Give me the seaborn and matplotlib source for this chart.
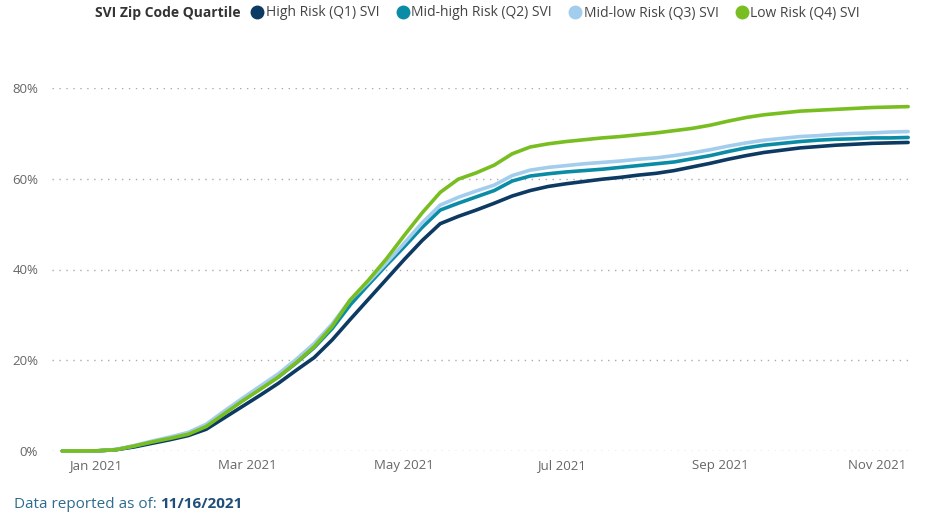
import pandas as pd
import numpy as np
import matplotlib.pyplot as plt
import matplotlib.dates as mdates
from matplotlib.lines import Line2D
from matplotlib.ticker import FuncFormatter
import seaborn as sns

# weekly cumulative vaccination share (%) by SVI zip code quartile
dates = pd.date_range("2020-12-19", periods=48, freq="7D")

q1_high = [0, 0, 0.05, 0.3, 0.9, 1.7, 2.5, 3.4, 4.8, 7.3, 9.8, 12.3, 14.9, 17.8, 20.6, 24.5,
           29.0, 33.4, 37.8, 42.2, 46.4, 50.1, 51.7, 53.1, 54.6, 56.2, 57.4, 58.3, 58.9, 59.4,
           59.9, 60.3, 60.8, 61.2, 61.8, 62.6, 63.4, 64.3, 65.1, 65.8, 66.3, 66.8, 67.1, 67.4,
           67.6, 67.8, 67.9, 68.0]
q2_midhigh = [0, 0, 0.05, 0.3, 1.1, 2.0, 2.9, 3.9, 5.6, 8.4, 11.1, 13.7, 16.3, 19.4, 22.8, 27.0,
              32.2, 36.6, 40.9, 45.0, 49.3, 53.1, 54.6, 56.0, 57.4, 59.5, 60.6, 61.1, 61.5, 61.8,
              62.1, 62.5, 62.9, 63.3, 63.7, 64.4, 65.1, 66.0, 66.8, 67.4, 67.8, 68.2, 68.5, 68.7,
              68.8, 69.0, 69.0, 69.1]
q3_midlow = [0, 0, 0.05, 0.35, 1.2, 2.2, 3.1, 4.1, 5.9, 8.8, 11.6, 14.3, 17.0, 20.2, 23.7, 28.0,
             33.3, 37.2, 41.4, 45.8, 50.3, 54.2, 55.9, 57.3, 58.6, 60.7, 61.9, 62.5, 62.9, 63.3,
             63.6, 63.9, 64.3, 64.6, 65.1, 65.7, 66.4, 67.2, 67.9, 68.5, 68.9, 69.3, 69.5, 69.8,
             70.0, 70.1, 70.3, 70.4]
q4_low = [0, 0, 0.05, 0.3, 1.1, 2.0, 2.8, 3.7, 5.4, 8.2, 11.0, 13.6, 16.3, 19.5, 23.0, 27.5,
          33.3, 37.6, 42.3, 47.5, 52.5, 57.0, 59.9, 61.3, 63.0, 65.5, 67.0, 67.7, 68.2, 68.6,
          69.0, 69.3, 69.7, 70.1, 70.6, 71.1, 71.8, 72.7, 73.5, 74.1, 74.5, 74.9, 75.1, 75.3,
          75.5, 75.7, 75.8, 75.9]

series_names = ["High Risk (Q1) SVI", "Mid-high Risk (Q2) SVI",
                "Mid-low Risk (Q3) SVI", "Low Risk (Q4) SVI"]
series_colors = ["#0D3A62", "#0B8CA6", "#A3CDEC", "#78BE21"]
y_ticks = [0, 20, 40, 60, 80]

df = pd.DataFrame({"date": dates, series_names[0]: q1_high, series_names[1]: q2_midhigh,
                   series_names[2]: q3_midlow, series_names[3]: q4_low})
long_df = df.melt(id_vars="date", var_name="quartile", value_name="pct")

sns.set_style("white")
plt.rcParams['font.family'] = ['Open Sans', 'DejaVu Sans']

fig = plt.figure(figsize=(9.28, 5.13), dpi=100)
ax = fig.add_axes([52 / 928, (513 - 451) / 513, (912 - 52) / 928, (451 - 88) / 513])

sns.lineplot(data=long_df, x="date", y="pct", hue="quartile", hue_order=series_names,
             palette=series_colors, linewidth=2.6, ax=ax, legend=False)

ax.set_xlim(pd.Timestamp("2020-12-15"), pd.Timestamp("2021-11-14 12:00"))
ax.set_ylim(0, 80)
ax.set_yticks(y_ticks)
ax.yaxis.set_major_formatter(FuncFormatter(lambda v, p: f"{v:.0f}%"))
ax.xaxis.set_major_locator(mdates.MonthLocator(bymonth=[1, 3, 5, 7, 9, 11]))
ax.xaxis.set_major_formatter(mdates.DateFormatter("%b %Y"))
ax.set_xlabel("")
ax.set_ylabel("")
ax.tick_params(axis="both", length=0, labelsize=9.5, labelcolor="#666666")
ax.tick_params(axis="x", pad=6)
ax.tick_params(axis="y", pad=10)
ax.grid(axis="y", linestyle=(0, (1, 4)), color="#AAAAAA", linewidth=1)
ax.grid(axis="x", visible=False)
for s in ax.spines.values():
    s.set_visible(False)
for line in ax.lines:
    line.set_clip_on(False)

# legend across the top
fig.text(95 / 928, 1 - 13 / 513, "SVI Zip Code Quartile", fontsize=10, fontweight="bold",
         color="#333333", va="center", ha="left")
handles = [Line2D([], [], marker="o", linestyle="", markersize=9, color=c) for c in series_colors]
fig.legend(handles, series_names, loc="center left", bbox_to_anchor=(249 / 928, 1 - 13 / 513),
           ncol=4, frameon=False, fontsize=10, handletextpad=0.0, columnspacing=1.1,
           handlelength=1.2, labelcolor="#444444", borderaxespad=0, borderpad=0)

# footer at the bottom edge
fig.text(14 / 928, 1 - 497 / 513, "Data reported as of: ", fontsize=11, color="#2E6B8E",
         va="top", ha="left")
fig.text(160 / 928, 1 - 497 / 513, "11/16/2021", fontsize=11, color="#1F4E79",
         fontweight="bold", va="top", ha="left")

fig.savefig("out.png", dpi=100)
